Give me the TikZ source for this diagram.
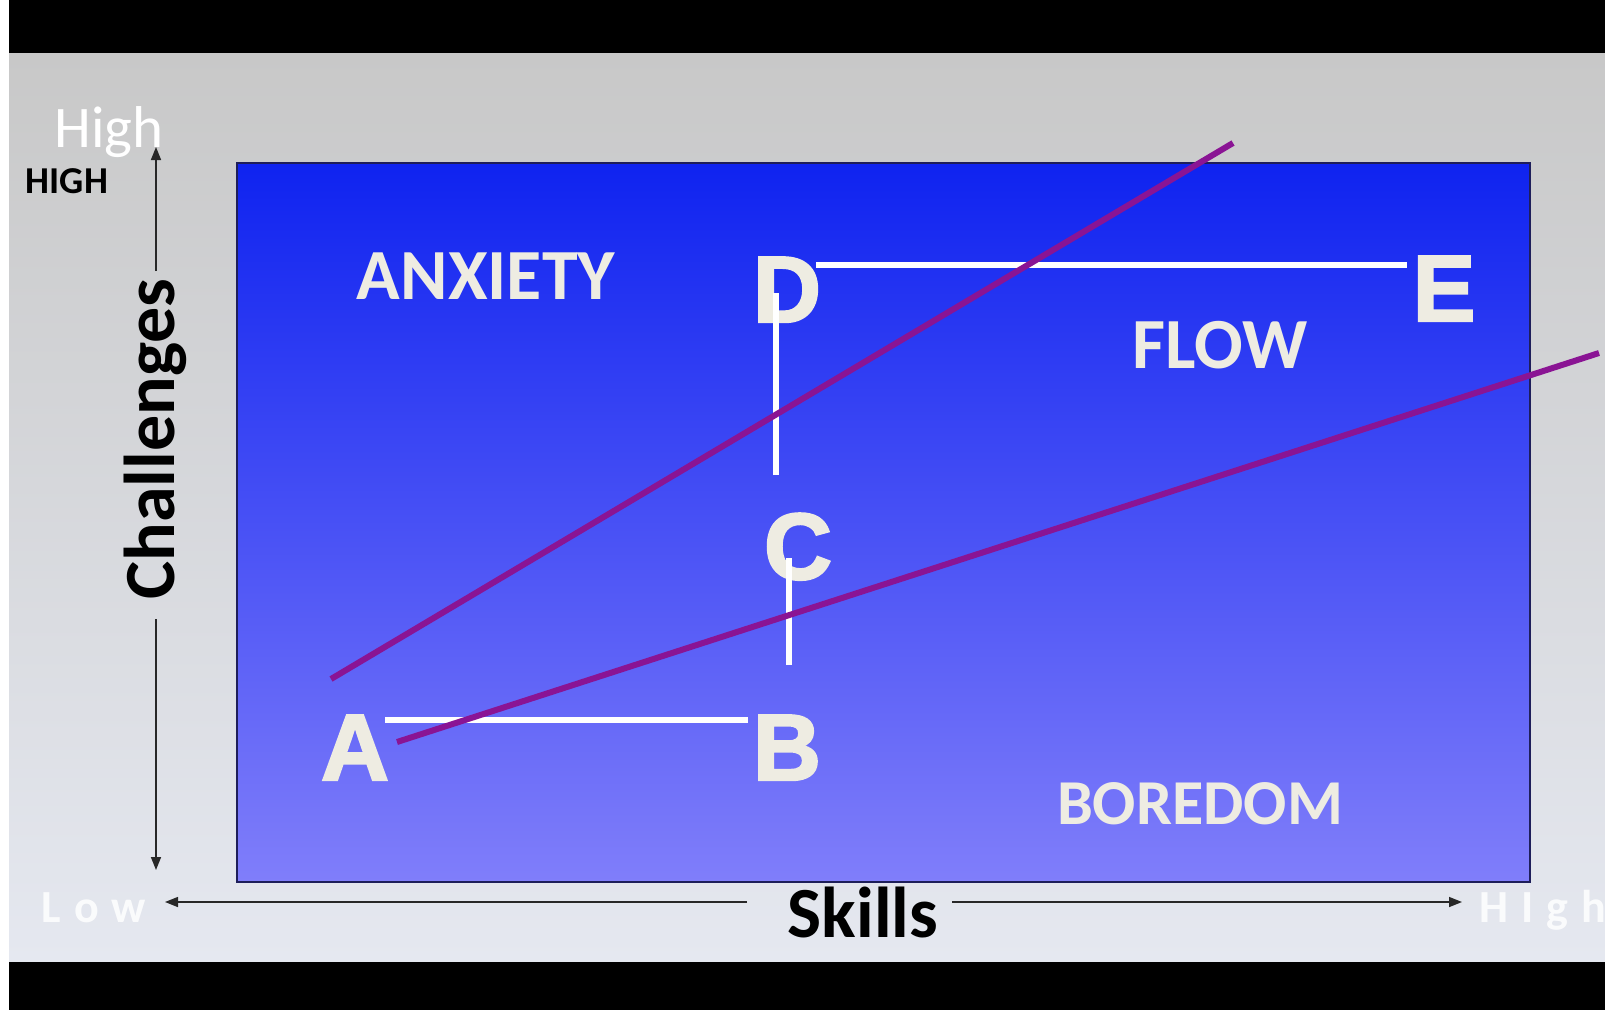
\documentclass[tikz,border=0pt]{standalone}
\usepackage{fontspec}
\setmainfont{Carlito}
\newfontfamily\lettfont[BoldFeatures={FakeBold=2.5}]{Liberation Sans}
\usetikzlibrary{arrows.meta}
\definecolor{bgtop}{RGB}{200,200,200}
\definecolor{bgbot}{RGB}{229,232,240}
\definecolor{bluetop}{RGB}{15,35,240}
\definecolor{bluebot}{RGB}{128,126,250}
\definecolor{navy}{RGB}{30,30,90}
\definecolor{offwhite}{RGB}{238,236,226}
\definecolor{purp}{RGB}{138,20,148}
\definecolor{axisgray}{RGB}{40,40,40}
\tikzset{
  lett/.style={anchor=base, inner sep=0pt, text=offwhite, font=\lettfont\bfseries\fontsize{94}{100}\selectfont},
  zone/.style={anchor=base, inner sep=0pt, text=offwhite, font=\bfseries\fontsize{72}{80}\selectfont},
  axlabel/.style={anchor=base, inner sep=0pt, text=black, font=\bfseries\fontsize{72}{80}\selectfont},
  wline/.style={draw=white, line width=6pt},
  pline/.style={draw=purp, line width=6pt},
  axarrow/.style={draw=axisgray, line width=1.5pt, -{Triangle[length=13pt,width=10pt]}},
}
\begin{document}
\begin{tikzpicture}[x=1pt,y=-1pt]
\useasboundingbox (0,0) rectangle (1605,1010);
\fill[white] (0,0) rectangle (1605,1010);
\shade[top color=bgtop, bottom color=bgbot] (9,53) rectangle (1605,962);
\fill[black] (9,0) rectangle (1605,53);
\fill[black] (9,962) rectangle (1605,1010);
\shade[top color=bluetop, bottom color=bluebot] (237,163) rectangle (1530,882);
\draw[navy, line width=1.5pt] (237,163) rectangle (1530,882);

% zone labels
\node[zone] (anx) at (486,299) {ANXIETY};
\node[zone] (flow) at (1220,368) {FLOW};
\node[zone, font=\bfseries\fontsize{64}{70}\selectfont] (bore) at (1200,824) {BOREDOM};

% letters
\node[lett] (A) at (355,780) {A};
\node[lett] (B) at (787,780) {B};
\node[lett] (C) at (798,579) {C};
\node[lett] (D) at (787,322) {D};
\node[lett] (E) at (1444,321) {E};

% white path
\coordinate (ab1) at (385,720); \coordinate (ab2) at (748,720);
\coordinate (bc1) at (789,665); \coordinate (bc2) at (789,558);
\coordinate (cd1) at (776,475); \coordinate (cd2) at (776,293);
\coordinate (de1) at (816,265); \coordinate (de2) at (1407,265);
\draw[wline] (ab1) -- (ab2);
\draw[wline] (bc1) -- (bc2);
\draw[wline] (cd1) -- (cd2);
\draw[wline] (de1) -- (de2);

% purple channel lines
\coordinate (p1a) at (331,679); \coordinate (p1b) at (1233,143);
\coordinate (p2a) at (397,742); \coordinate (p2b) at (1599,353);
\draw[pline] (p1a) -- (p1b);
\draw[pline] (p2a) -- (p2b);

% axes
\node[axlabel, rotate=90] (chal) at (174,439) {Challenges};
\node[axlabel] (skills) at (863,937) {Skills};
\coordinate (vtop0) at (156,271); \coordinate (vtop) at (156,147);
\coordinate (vbot0) at (156,619); \coordinate (vbot) at (156,870);
\coordinate (hl0) at (747,902); \coordinate (hl) at (165,902);
\coordinate (hr0) at (952,902); \coordinate (hr) at (1462,902);
\draw[axarrow] (vtop0) -- (vtop);
\draw[axarrow] (vbot0) -- (vbot);
\draw[axarrow] (hl0) -- (hl);
\draw[axarrow] (hr0) -- (hr);

% axis end labels
\node[anchor=base, inner sep=0pt, text=white, font=\fontsize{59}{64}\selectfont] (hightop) at (109,147) {High};
\node[anchor=base, inner sep=0pt, text=black, font=\bfseries\fontsize{38}{42}\selectfont] (HIGH) at (67,193) {HIGH};
\node[anchor=base, inner sep=0pt, text=white, opacity=0.85, font=\bfseries\fontsize{46}{50}\selectfont] (low) at (94,922) {L\hspace{13pt}o\hspace{13pt}w};
\node[anchor=base, inner sep=0pt, text=white, opacity=0.85, font=\bfseries\fontsize{46}{50}\selectfont] (highr) at (1543,922) {H\hspace{13pt}I\hspace{13pt}g\hspace{13pt}h};
\end{tikzpicture}
\end{document}
